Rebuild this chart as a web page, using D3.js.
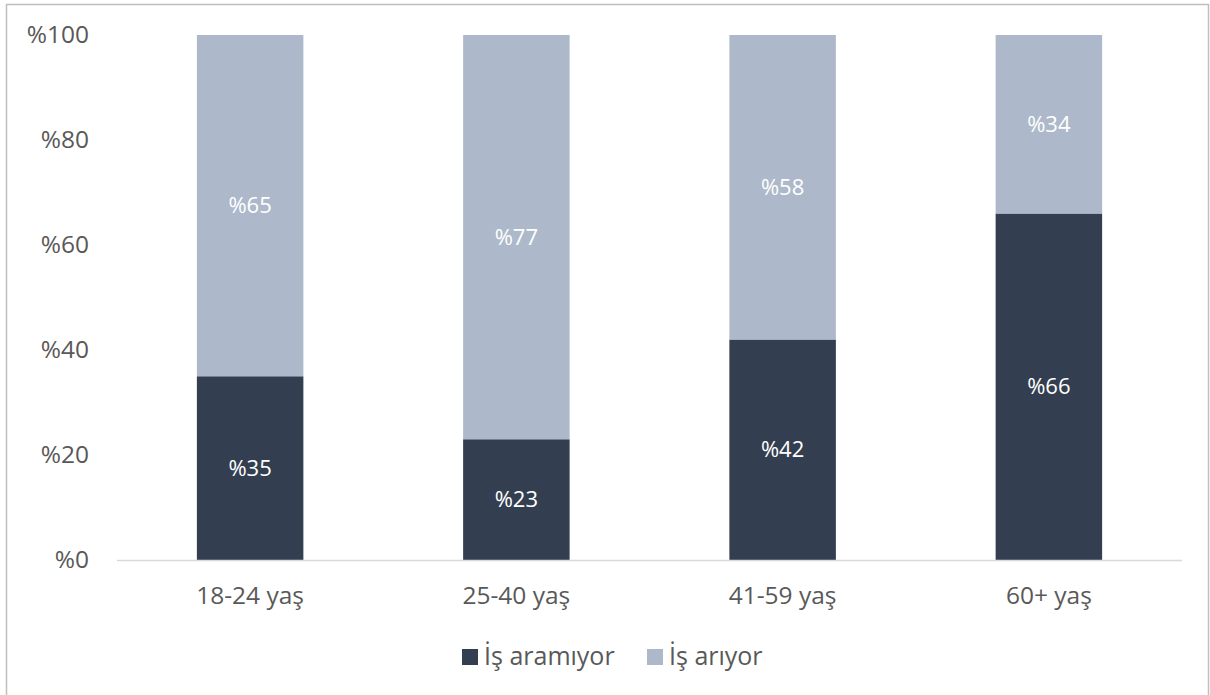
<!DOCTYPE html>
<html>
<head>
<meta charset="utf-8">
<script src="https://cdn.jsdelivr.net/npm/d3@7"></script>
<style>
  body { margin: 0; background: #fff; }
  svg { display: block; font-family: "Open Sans", sans-serif; }
</style>
</head>
<body>
<div id="chart"></div>
<script>
const categories = ["18-24 yaş", "25-40 yaş", "41-59 yaş", "60+ yaş"];
const seriesNames = ["İş aramıyor", "İş arıyor"];
const notSeeking = [35, 23, 42, 66];
const seeking = [65, 77, 58, 34];
const yTicks = [0, 20, 40, 60, 80, 100];
const colors = ["#333f50", "#adb9ca"];

const W = 1210, H = 695;
const margin = { top: 35, right: 28, bottom: 135, left: 117 };
const width = W - margin.left - margin.right;
const height = H - margin.top - margin.bottom;

const svg = d3.select("#chart").append("svg")
  .attr("width", W)
  .attr("height", H);

// outer frame
svg.append("path")
  .attr("d", `M6.5,${H} V4.5 H1208.5 V${H}`)
  .attr("fill", "none")
  .attr("stroke", "#bfbfbf")
  .attr("stroke-width", 1.5);

const g = svg.append("g")
  .attr("transform", `translate(${margin.left},${margin.top})`);

const x = d3.scaleBand()
  .domain(categories)
  .range([0, width])
  .paddingInner(0.6)
  .paddingOuter(0.3);

const y = d3.scaleLinear()
  .domain([0, 100])
  .range([height, 0]);

const rows = categories.map((c, i) => ({ cat: c, [seriesNames[0]]: notSeeking[i], [seriesNames[1]]: seeking[i] }));
const stacked = d3.stack().keys(seriesNames)(rows);

const layers = g.selectAll(".layer")
  .data(stacked)
  .enter().append("g")
  .attr("fill", (d, i) => colors[i]);

layers.selectAll("rect")
  .data(d => d)
  .enter().append("rect")
  .attr("x", d => x(d.data.cat))
  .attr("y", d => y(d[1]))
  .attr("width", x.bandwidth())
  .attr("height", d => y(d[0]) - y(d[1]));

layers.selectAll("text")
  .data(d => d)
  .enter().append("text")
  .attr("x", d => x(d.data.cat) + x.bandwidth() / 2)
  .attr("y", d => (y(d[0]) + y(d[1])) / 2)
  .attr("dy", "0.35em")
  .attr("text-anchor", "middle")
  .attr("fill", "#fff")
  .attr("font-size", "22px")
  .text(d => "%" + (d[1] - d[0]));

// baseline
g.append("line")
  .attr("x1", 0).attr("x2", width)
  .attr("y1", y(0) + 0.5).attr("y2", y(0) + 0.5)
  .attr("stroke", "#d9d9d9")
  .attr("stroke-width", 1.5);

// y axis labels
const yAxis = g.append("g")
  .call(d3.axisLeft(y).tickValues(yTicks).tickSize(0).tickPadding(28).tickFormat(d => "%" + d));
yAxis.select(".domain").remove();
yAxis.selectAll("text")
  .attr("font-size", "24.5px")
  .attr("font-family", "Open Sans, sans-serif")
  .attr("fill", "#595959");

// x axis labels
const xAxis = g.append("g")
  .attr("transform", `translate(0,${height})`)
  .call(d3.axisBottom(x).tickSize(0).tickPadding(27));
xAxis.select(".domain").remove();
xAxis.selectAll("text")
  .attr("font-size", "24.5px")
  .attr("font-family", "Open Sans, sans-serif")
  .attr("fill", "#595959");

// legend
const legendX = [462, 647];
const legend = svg.append("g");
seriesNames.forEach((name, i) => {
  legend.append("rect")
    .attr("x", legendX[i]).attr("y", 649)
    .attr("width", 16).attr("height", 16)
    .attr("fill", colors[i]);
  legend.append("text")
    .attr("x", legendX[i] + 22).attr("y", 665)
    .attr("font-size", "25px")
    .attr("fill", "#595959")
    .text(name);
});
</script>
</body>
</html>
